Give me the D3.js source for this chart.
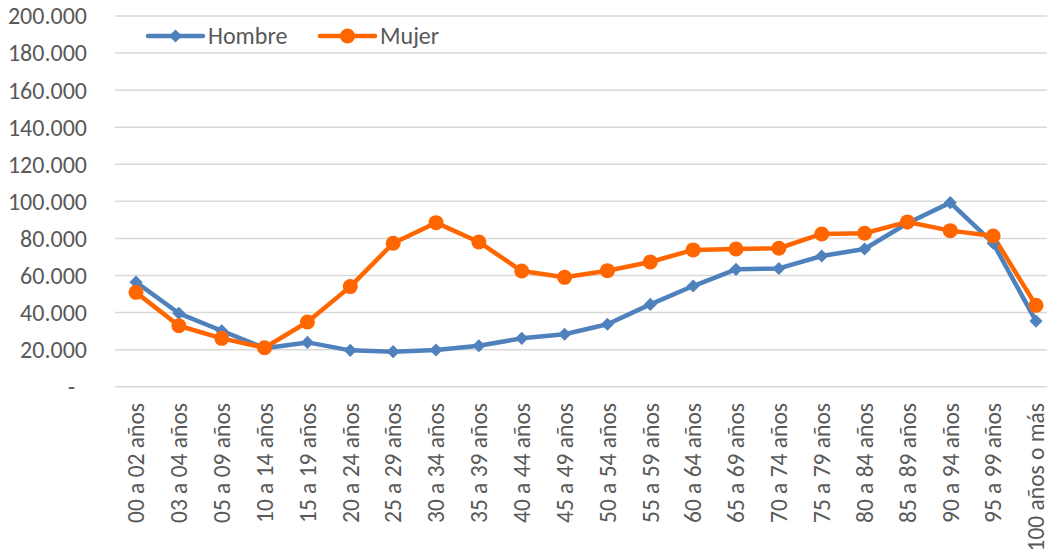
<!DOCTYPE html>
<html>
<head>
<meta charset="utf-8">
<script src="https://cdn.jsdelivr.net/npm/d3@7"></script>
<style>
  html, body { margin: 0; padding: 0; background: #fff; }
  svg { display: block; font-family: Carlito, Lato, "Open Sans", sans-serif; }
</style>
</head>
<body>
<svg id="chart" width="1047" height="554"></svg>
<script>
const categories = ["00 a 02 años","03 a 04 años","05 a 09 años","10 a 14 años","15 a 19 años","20 a 24 años","25 a 29 años","30 a 34 años","35 a 39 años","40 a 44 años","45 a 49 años","50 a 54 años","55 a 59 años","60 a 64 años","65 a 69 años","70 a 74 años","75 a 79 años","80 a 84 años","85 a 89 años","90 a 94 años","95 a 99 años","100 años o más"];
const hombre = [56400, 39600, 30200, 20800, 23900, 19600, 18900, 19800, 22100, 26100, 28300, 33700, 44400, 54300, 63300, 63800, 70500, 74300, 88200, 99300, 77400, 35400];
const mujer  = [50900, 32900, 26100, 21000, 34900, 54000, 77400, 88500, 78100, 62400, 59000, 62600, 67300, 73800, 74300, 74700, 82400, 82800, 88900, 84200, 81300, 43900];
const yTicks = [0, 20000, 40000, 60000, 80000, 100000, 120000, 140000, 160000, 180000, 200000];
const seriesNames = ["Hombre", "Mujer"];
const seriesColors = ["#4F81BD", "#FF6600"];

const svg = d3.select("#chart");
const x = d3.scalePoint().domain(categories).range([136, 1036]);
const y = d3.scaleLinear().domain([0, 200000]).range([386.7, 16]);
const fmt = v => v === 0 ? "-" : d3.format(",")(v).replace(/,/g, ".");

// gridlines
svg.append("g").selectAll("line").data(yTicks).join("line")
  .attr("x1", 115).attr("x2", 1047)
  .attr("y1", d => y(d)).attr("y2", d => y(d))
  .attr("stroke", "#d9d9d9").attr("stroke-width", 1.5);

// y labels
svg.append("g").selectAll("text").data(yTicks).join("text")
  .attr("x", d => d === 0 ? 75 : 87)
  .attr("y", d => y(d))
  .attr("dy", "0.35em")
  .attr("text-anchor", "end")
  .attr("fill", "#595959")
  .attr("font-size", 24)
  .text(fmt);

// x labels
svg.append("g").selectAll("text").data(categories).join("text")
  .attr("transform", d => `translate(${x(d)},403) rotate(-90)`)
  .attr("text-anchor", "end")
  .attr("dy", "0.35em")
  .attr("fill", "#595959")
  .attr("font-size", 23.5)
  .text(d => d);

const line = d3.line().x((d, i) => x(categories[i])).y(d => y(d));
const data = [hombre, mujer];

data.forEach((vals, si) => {
  svg.append("path").datum(vals)
    .attr("d", line)
    .attr("fill", "none")
    .attr("stroke", seriesColors[si])
    .attr("stroke-width", 4.5)
    .attr("stroke-linejoin", "round");
});

const diamond = d3.symbol().type(d3.symbolDiamond2 || d3.symbolDiamond).size(110);
// markers
svg.append("g").selectAll("path").data(hombre).join("path")
  .attr("transform", (d, i) => `translate(${x(categories[i])},${y(d)})`)
  .attr("d", diamond())
  .attr("fill", seriesColors[0]);
svg.append("g").selectAll("circle").data(mujer).join("circle")
  .attr("cx", (d, i) => x(categories[i])).attr("cy", d => y(d))
  .attr("r", 7.5)
  .attr("fill", seriesColors[1]);

// legend
const legendX = [148, 320];
seriesNames.forEach((name, i) => {
  const g = svg.append("g").attr("transform", `translate(${legendX[i]},36)`);
  g.append("line").attr("x1", 0).attr("x2", 55).attr("y1", 0).attr("y2", 0)
    .attr("stroke", seriesColors[i]).attr("stroke-width", 4.5).attr("stroke-linecap", "round");
  if (i === 0) {
    g.append("path").attr("transform", "translate(27.5,0)").attr("d", diamond()).attr("fill", seriesColors[i]);
  } else {
    g.append("circle").attr("cx", 27.5).attr("cy", 0).attr("r", 7.5).attr("fill", seriesColors[i]);
  }
  g.append("text").attr("x", 60).attr("y", 0).attr("dy", "0.35em")
    .attr("fill", "#595959").attr("font-size", 24).text(name);
});
</script>
</body>
</html>
